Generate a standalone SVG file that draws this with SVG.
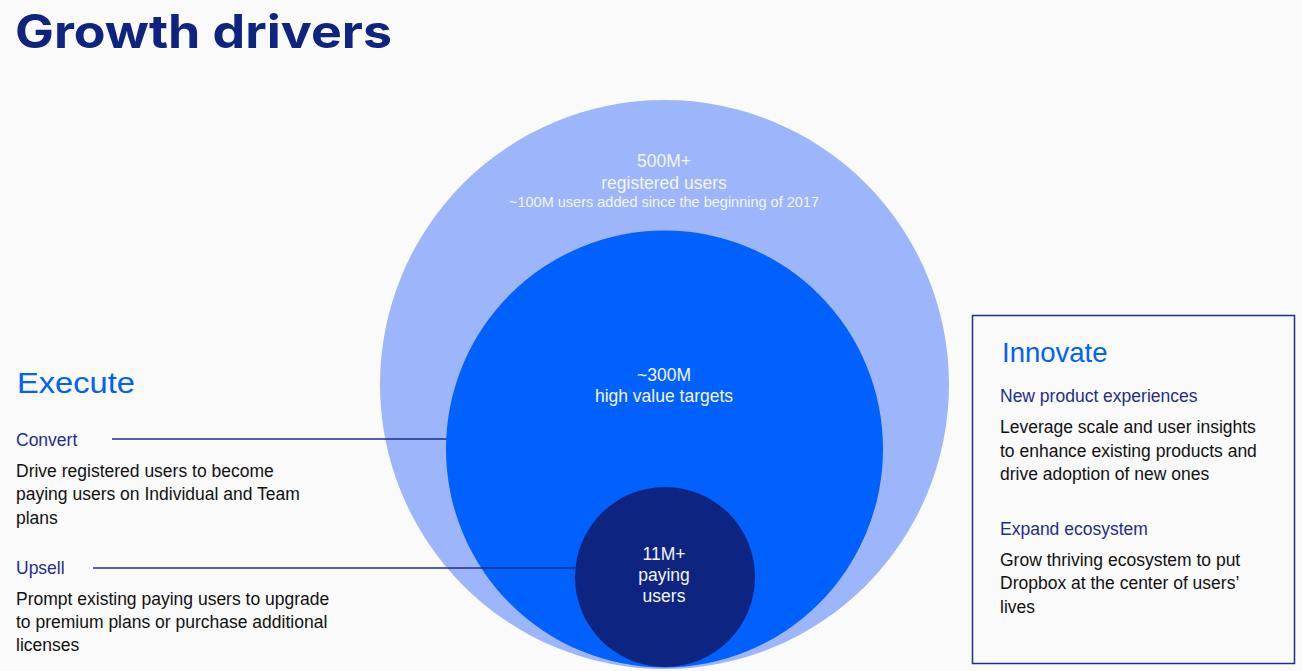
<svg xmlns="http://www.w3.org/2000/svg" width="1302" height="671" viewBox="0 0 1302 671">
<style>
.title{font-family:Inter,"Liberation Sans",sans-serif;font-weight:700;font-size:46px;fill:#0D2481}
.h1{font-family:"Liberation Sans",Arial,sans-serif;fill:#0061FE}
.h2{font-family:"Liberation Sans",Arial,sans-serif;font-size:17.5px;fill:#1E2E8A}
.body{font-family:"Liberation Sans",Arial,sans-serif;font-size:17.5px;fill:#111111}
.ct{font-family:"Liberation Sans",Arial,sans-serif;font-size:17.5px;fill:#F4F5FC;text-anchor:middle}
.conn{stroke:#1E2E8A;stroke-width:1.3;fill:none}
</style>
<rect width="1302" height="671" fill="#FAFAFA"/>
<text class="title" x="15" y="48" textLength="377" lengthAdjust="spacingAndGlyphs">Growth drivers</text>
<g id="circle-registered">
<circle cx="664.5" cy="384.5" r="284.5" fill="#9DB5FA"/>
<text class="ct" x="664" y="167">500M+</text>
<text class="ct" x="664" y="189">registered users</text>
<text class="ct" x="664" y="207" style="font-size:14.5px">~100M users added since the beginning of 2017</text>
</g>
<g id="circle-targets">
<circle cx="664.5" cy="449" r="218.5" fill="#0061FE"/>
<text class="ct" x="664" y="381">~300M</text>
<text class="ct" x="664" y="402">high value targets</text>
</g>
<g id="circle-paying">
<circle cx="665" cy="577" r="90" fill="#0D2481"/>
<text class="ct" x="664" y="560">11M+</text>
<text class="ct" x="664" y="581">paying</text>
<text class="ct" x="664" y="602">users</text>
</g>
<g id="connectors">
<line class="conn" x1="112" y1="439" x2="446.5" y2="439"/>
<line class="conn" x1="93" y1="568" x2="575" y2="568"/>
</g>
<g id="execute">
<text class="h1" x="17" y="393" style="font-size:29px" textLength="118" lengthAdjust="spacingAndGlyphs">Execute</text>
<text class="h2" x="16" y="446">Convert</text>
<text class="body" x="16" y="477">Drive registered users to become</text>
<text class="body" x="16" y="500">paying users on Individual and Team</text>
<text class="body" x="16" y="524">plans</text>
<text class="h2" x="16" y="574">Upsell</text>
<text class="body" x="16" y="605">Prompt existing paying users to upgrade</text>
<text class="body" x="16" y="628">to premium plans or purchase additional</text>
<text class="body" x="16" y="651">licenses</text>
</g>
<g id="innovate">
<rect x="972.5" y="315.5" width="322" height="348" fill="none" stroke="#1E2E8A" stroke-width="1.5"/>
<text class="h1" x="1002" y="362" style="font-size:27.5px">Innovate</text>
<text class="h2" x="1000" y="402">New product experiences</text>
<text class="body" x="1000" y="433">Leverage scale and user insights</text>
<text class="body" x="1000" y="457">to enhance existing products and</text>
<text class="body" x="1000" y="480">drive adoption of new ones</text>
<text class="h2" x="1000" y="535">Expand ecosystem</text>
<text class="body" x="1000" y="566">Grow thriving ecosystem to put</text>
<text class="body" x="1000" y="589">Dropbox at the center of users’</text>
<text class="body" x="1000" y="613">lives</text>
</g>
</svg>
